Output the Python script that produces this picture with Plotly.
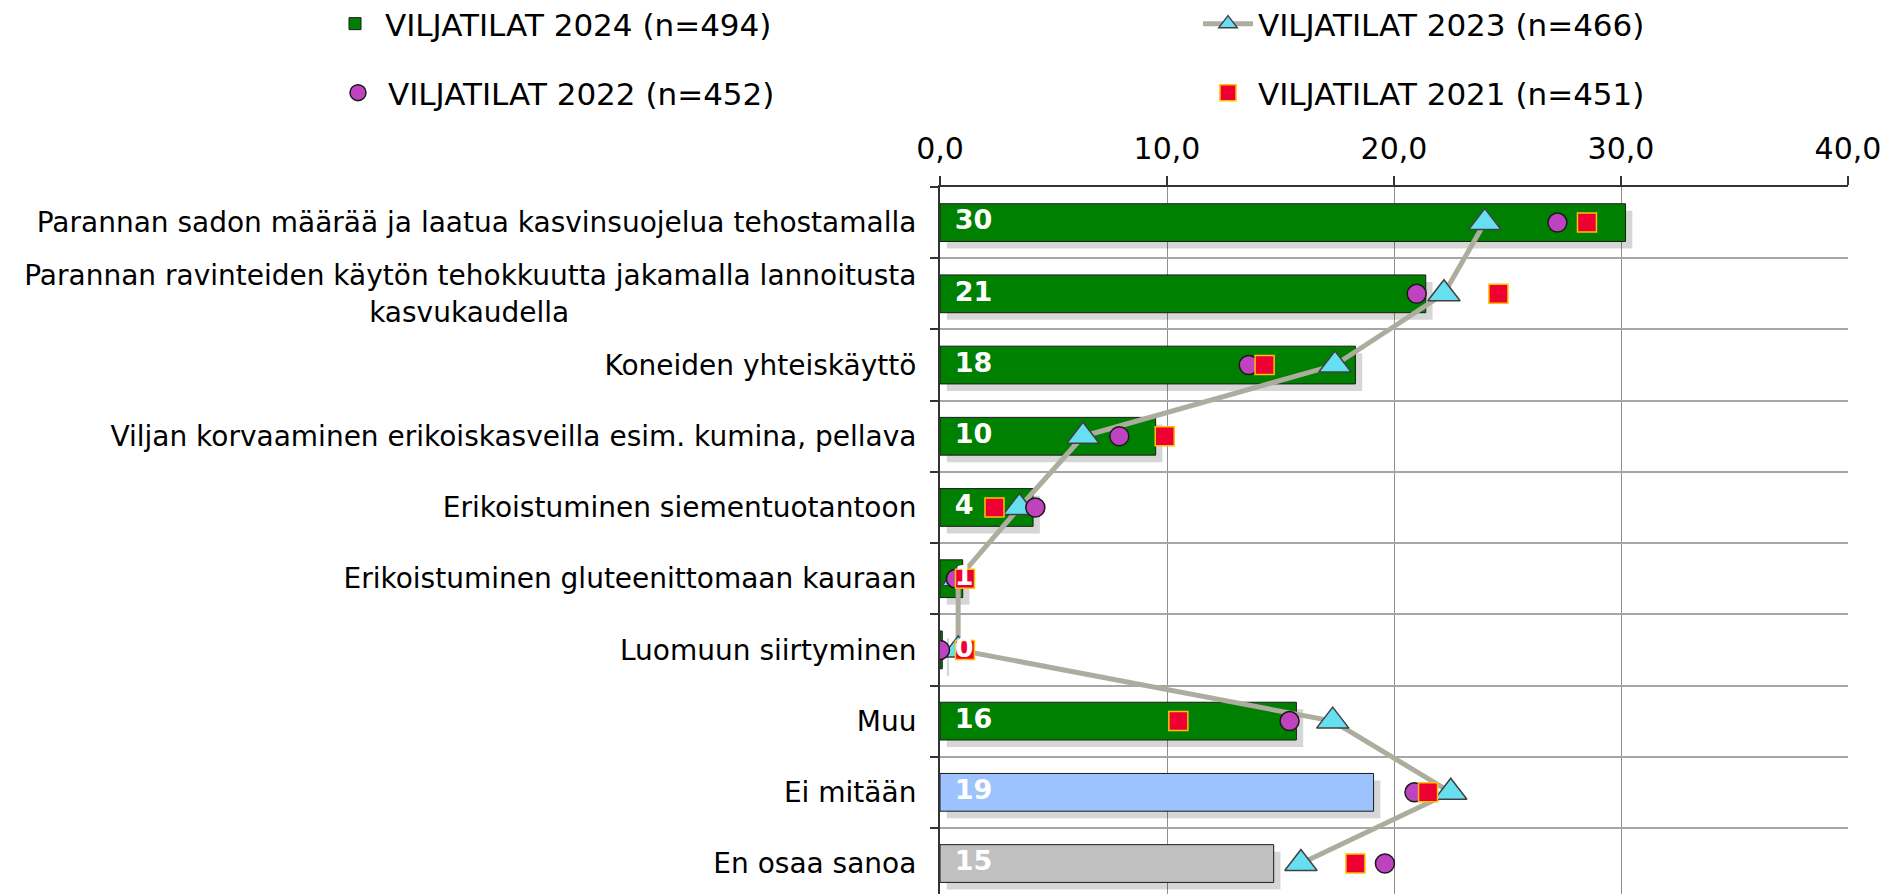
import plotly.graph_objects as go

# ---- data ----
categories = [
    "Parannan sadon määrää ja laatua kasvinsuojelua tehostamalla",
    "Parannan ravinteiden käytön tehokkuutta jakamalla lannoitusta<br>kasvukaudella" + "\u00a0" * 39,
    "Koneiden yhteiskäyttö",
    "Viljan korvaaminen erikoiskasveilla esim. kumina, pellava",
    "Erikoistuminen siementuotantoon",
    "Erikoistuminen gluteenittomaan kauraan",
    "Luomuun siirtyminen",
    "Muu",
    "Ei mitään",
    "En osaa sanoa",
]
v2024 = [30.2, 21.4, 18.3, 9.5, 4.1, 1.0, 0.1, 15.7, 19.1, 14.7]
v2023 = [24.0, 22.2, 17.4, 6.3, 3.5, 0.8, 0.8, 17.3, 22.5, 15.9]
v2022 = [27.2, 21.0, 13.6, 7.9, 4.2, 0.7, 0.0, 15.4, 20.9, 19.6]
v2021 = [28.5, 24.6, 14.3, 9.9, 2.4, 1.1, 1.1, 10.5, 21.5, 18.3]

names = ["VILJATILAT 2024 (n=494)", "VILJATILAT 2023 (n=466)",
         "VILJATILAT 2022 (n=452)", "VILJATILAT 2021 (n=451)"]
x_ticks = [0, 10, 20, 30, 40]

# ---- styles ----
FONT = "Verdana, DejaVu Sans, sans-serif"
bar_colors = ["#008000"] * 8 + ["#9DC3FF", "#C0C0C0"]
BAR_W = 0.53

fig = go.Figure()

# soft shadow under bars
fig.add_trace(go.Bar(
    x=v2024, y=categories, orientation="h", base=0.3,
    width=BAR_W, offset=-BAR_W / 2 + 0.1,
    marker=dict(color="rgba(0,0,0,0.16)", line=dict(width=0)),
    showlegend=False, hoverinfo="skip",
))

fig.add_trace(go.Bar(
    x=v2024, y=categories, orientation="h", name=names[0],
    width=BAR_W,
    marker=dict(color=bar_colors, line=dict(color="#1a1a1a", width=1)),
    legend="legend",
))

fig.add_trace(go.Scatter(
    x=v2023, y=categories, mode="lines+markers", name=names[1],
    line=dict(color="#ADAD9F", width=5),
    marker=dict(symbol="triangle-up", size=28, color="#66E0F0",
                line=dict(color="#404040", width=1.5)),
    legend="legend2",
))

fig.add_trace(go.Scatter(
    x=v2022, y=categories, mode="markers", name=names[2],
    marker=dict(symbol="circle", size=19, color="#BF43BF",
                line=dict(color="#1a1a1a", width=1.5)),
    legend="legend3",
))

fig.add_trace(go.Scatter(
    x=v2021, y=categories, mode="markers", name=names[3],
    marker=dict(symbol="square", size=19, color="#EE0033",
                line=dict(color="#FFC000", width=1.5)),
    legend="legend4",
))

# value labels of the 2024 bars, drawn on top, starting at the bar base
fig.add_trace(go.Scatter(
    x=[0] * len(v2024), y=categories, mode="text",
    text=["\u00a0\u2009" + f"{v:.0f}" for v in v2024],
    textposition="middle right",
    textfont=dict(color="white", size=27, family=FONT, weight="bold"),
    showlegend=False, hoverinfo="skip", cliponaxis=False,
))

leg_common = dict(font=dict(size=31, family=FONT, color="black"),
                  bgcolor="rgba(0,0,0,0)", xref="container", yref="container",
                  xanchor="left", yanchor="middle", itemwidth=50,
                  orientation="h", maxheight=400)

fig.update_layout(
    width=1893, height=894,
    margin=dict(l=932, r=53, t=179, b=0, autoexpand=False),
    paper_bgcolor="white", plot_bgcolor="white",
    barmode="overlay",
    separators=", ",
    font=dict(family=FONT, color="black"),
    legend=dict(x=317 / 1893, y=1 - 16 / 894, **leg_common),
    legend2=dict(x=1190 / 1893, y=1 - 16 / 894, **leg_common),
    legend3=dict(x=320 / 1893, y=1 - 85 / 894, **leg_common),
    legend4=dict(x=1190 / 1893, y=1 - 85 / 894, **leg_common),
    xaxis=dict(
        side="top", range=[0, 40], tickmode="array", tickvals=x_ticks,
        tickformat=".1f", showgrid=True, gridcolor="#8f8f8f", gridwidth=1,
        showline=True, linecolor="#333333", linewidth=2,
        ticks="outside", ticklen=9, tickcolor="#333333", tickwidth=1.5,
        tickfont=dict(size=30, family=FONT, color="black"),
        ticklabelstandoff=5, zeroline=False,
    ),
    yaxis=dict(
        type="category", categoryorder="array", categoryarray=categories,
        range=[9.54, -0.5], tickson="boundaries",
        showgrid=True, gridcolor="#a6a6a6", gridwidth=1.5,
        showline=True, linecolor="#333333", linewidth=2,
        ticks="outside", ticklen=8, tickcolor="#333333", tickwidth=1.5,
        tickfont=dict(size=28, family=FONT, color="black"),
        ticklabelstandoff=16, zeroline=False,
    ),
)

fig.write_html("out.html")
